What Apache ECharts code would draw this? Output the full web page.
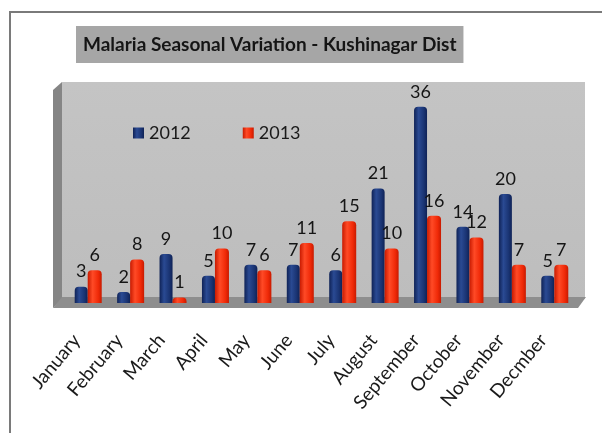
<!DOCTYPE html>
<html>
<head>
<meta charset="utf-8">
<script src="https://cdn.jsdelivr.net/npm/echarts@6/dist/echarts.min.js"></script>
<style>
  html, body { margin: 0; padding: 0; background: #fff; }
  #chart { width: 602px; height: 433px; }
</style>
</head>
<body>
<div id="chart"></div>
<script>
  var months = ['January', 'February', 'March', 'April', 'May', 'June', 'July',
    'August', 'September', 'October', 'November', 'Decmber'];
  var cases2012 = [3, 2, 9, 5, 7, 7, 6, 21, 36, 14, 20, 5];
  var cases2013 = [6, 8, 1, 10, 6, 11, 15, 10, 16, 12, 7, 7];

  var font = 'Lato, "Open Sans", sans-serif';

  // bars get a sideways gradient so they look a bit like the 3d columns
  function barColor(dark, mid, light) {
    return new echarts.graphic.LinearGradient(0, 0, 1, 0, [
      { offset: 0, color: dark },
      { offset: 0.35, color: light },
      { offset: 0.75, color: mid },
      { offset: 1, color: dark }
    ]);
  }

  var myChart = echarts.init(document.getElementById('chart'));
  var option = {
    backgroundColor: '#ffffff',
    animation: false,
    title: {
      text: 'Malaria Seasonal Variation - Kushinagar Dist',
      left: 76,
      top: 26,
      backgroundColor: '#a6a6a6',
      padding: [9, 7, 9, 7],
      textStyle: {
        fontFamily: font,
        fontSize: 19,
        fontWeight: 'bold',
        color: '#151515'
      }
    },
    legend: {
      left: 128,
      top: 119,
      icon: 'rect',
      itemWidth: 11,
      itemHeight: 11,
      itemGap: 52,
      textStyle: { fontFamily: font, fontSize: 18, color: '#1a1a1a' },
      data: ['2012', '2013']
    },
    grid: { left: 67, right: 26, top: 85, bottom: 130 },
    graphic: [
      // outer frame
      { type: 'polyline', z: -20, shape: { points: [[10, 433], [10, 12], [602, 12]] },
        style: { stroke: '#7a7a7a', lineWidth: 2, fill: null } },
      // back wall
      { type: 'rect', z: -20, shape: { x: 62, y: 82, width: 523, height: 217 },
        style: { fill: new echarts.graphic.LinearGradient(0, 0, 0, 1, [
          { offset: 0, color: '#c4c4c4' }, { offset: 1, color: '#bdbdbd' }]) } },
      // left side wall
      { type: 'polygon', z: -20, shape: { points: [[53, 90], [62, 82], [62, 299], [53, 308]] },
        style: { fill: '#858585' } },
      // floor
      { type: 'polygon', z: -20, shape: { points: [[62, 297], [586, 297], [578, 308], [53, 308]] },
        style: { fill: '#8e8e8e' } }
    ],
    xAxis: {
      type: 'category',
      data: months,
      axisLine: { show: false },
      axisTick: { show: false },
      axisLabel: {
        interval: 0,
        rotate: 50,
        margin: 20,
        padding: [0, 18, 0, 0],
        fontFamily: font,
        fontSize: 19,
        color: '#1a1a1a'
      }
    },
    yAxis: {
      type: 'value',
      min: 0,
      max: 40,
      show: false,
      splitLine: { show: false }
    },
    series: [{
      name: '2012',
      type: 'bar',
      data: cases2012,
      barWidth: 13,
      barGap: '0%',
      itemStyle: {
        color: barColor('#0f2256', '#1a3473', '#2a4a93'),
        borderRadius: [4, 4, 0, 0]
      },
      label: {
        show: true,
        position: 'top',
        distance: 6,
        fontFamily: font,
        fontSize: 18,
        color: '#151515'
      }
    }, {
      name: '2013',
      type: 'bar',
      data: cases2013,
      barWidth: 14,
      itemStyle: {
        color: barColor('#c81a00', '#f02a08', '#ff4a26'),
        borderRadius: [4, 4, 0, 0]
      },
      label: {
        show: true,
        position: 'top',
        distance: 6,
        fontFamily: font,
        fontSize: 18,
        color: '#151515'
      }
    }],
    color: ['#1a3473', '#f02a08']
  };
  myChart.setOption(option);
</script>
</body>
</html>
